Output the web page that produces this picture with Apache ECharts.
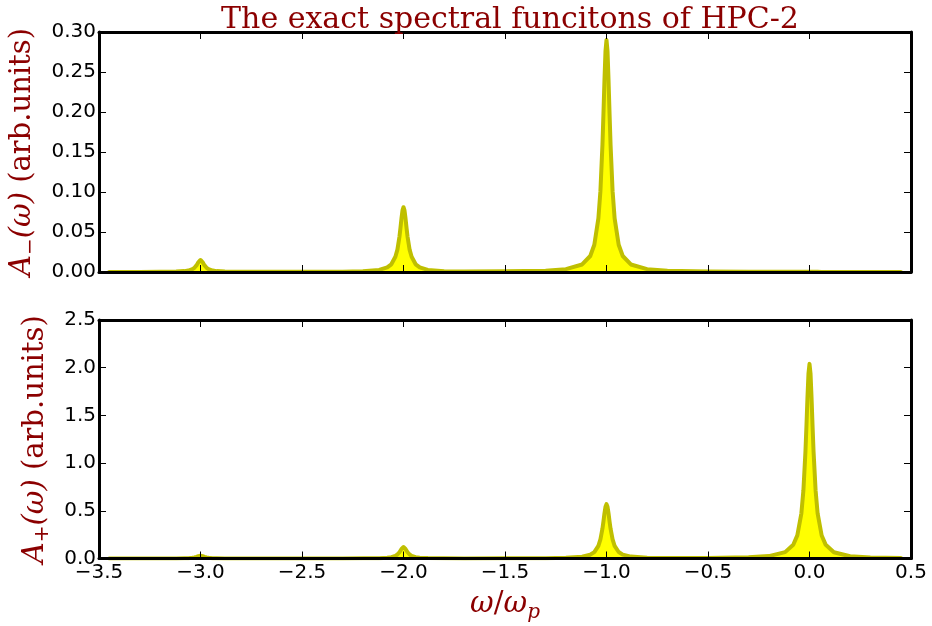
<!DOCTYPE html>
<html>
<head>
<meta charset="utf-8">
<script src="https://cdn.jsdelivr.net/npm/echarts@6/dist/echarts.min.js"></script>
<style>
  html, body { margin: 0; padding: 0; background: #ffffff; }
  #chart { width: 932px; height: 626px; }
</style>
</head>
<body>
<div id="chart"></div>
<script>
// Frequency grid (ω/ωp), denser around each spectral peak
const omega = [
  -3.45,
  -3.3, -3.2, -3.12, -3.08, -3.06, -3.04, -3.03, -3.02, -3.015, -3.01, -3.005, -3.0,
  -2.995, -2.99, -2.985, -2.98, -2.97, -2.96, -2.94, -2.92, -2.88, -2.8, -2.7,
  -2.5,
  -2.3, -2.2, -2.12, -2.08, -2.06, -2.04, -2.03, -2.02, -2.015, -2.01, -2.005, -2.0,
  -1.995, -1.99, -1.985, -1.98, -1.97, -1.96, -1.94, -1.92, -1.88, -1.8, -1.7,
  -1.5,
  -1.3, -1.2, -1.12, -1.08, -1.06, -1.04, -1.03, -1.02, -1.015, -1.01, -1.005, -1.0,
  -0.995, -0.99, -0.985, -0.98, -0.97, -0.96, -0.94, -0.92, -0.88, -0.8, -0.7,
  -0.5,
  -0.3, -0.2, -0.12, -0.08, -0.06, -0.04, -0.03, -0.02, -0.015, -0.01, -0.005, 0.0,
  0.005, 0.01, 0.015, 0.02, 0.03, 0.04, 0.06, 0.08, 0.12, 0.2, 0.3,
  0.45
];

// A−(ω): removal spectrum
const aMinus = [
  0.0001,
  0.0001, 0.0002, 0.0005, 0.0011, 0.0018, 0.0035, 0.0053, 0.0082, 0.0102, 0.0124, 0.0143, 0.0150,
  0.0143, 0.0124, 0.0102, 0.0082, 0.0053, 0.0035, 0.0018, 0.0011, 0.0005, 0.0002, 0.0002,
  0.0003,
  0.0004, 0.0010, 0.0026, 0.0057, 0.0096, 0.019, 0.028, 0.044, 0.055, 0.067, 0.077, 0.081,
  0.077, 0.067, 0.055, 0.044, 0.028, 0.019, 0.0096, 0.0057, 0.0026, 0.0010, 0.0007,
  0.0008,
  0.0017, 0.0036, 0.0094, 0.020, 0.034, 0.067, 0.101, 0.159, 0.198, 0.240, 0.276, 0.290,
  0.276, 0.240, 0.198, 0.159, 0.101, 0.067, 0.034, 0.020, 0.0094, 0.0035, 0.0016,
  0.0006,
  0.0003, 0.0002, 0.0002, 0.0002, 0.0002, 0.0002, 0.0002, 0.0002, 0.0002, 0.0002, 0.0002, 0.0002,
  0.0002, 0.0002, 0.0002, 0.0002, 0.0002, 0.0002, 0.0001, 0.0001, 0.0001, 0.0001, 0.0001,
  0.0001
];

// A+(ω): addition spectrum
const aPlus = [
  0.0002,
  0.0002, 0.0004, 0.0010, 0.0021, 0.0035, 0.0070, 0.0105, 0.0164, 0.0205, 0.0250, 0.0285, 0.0300,
  0.0285, 0.0250, 0.0205, 0.0164, 0.0105, 0.0070, 0.0035, 0.0021, 0.0010, 0.0005, 0.0003,
  0.0006,
  0.0007, 0.0016, 0.0037, 0.0083, 0.014, 0.028, 0.042, 0.066, 0.082, 0.100, 0.114, 0.120,
  0.114, 0.100, 0.082, 0.066, 0.042, 0.028, 0.014, 0.0085, 0.0040, 0.0018, 0.0010,
  0.0015,
  0.0035, 0.0073, 0.019, 0.040, 0.067, 0.133, 0.200, 0.312, 0.389, 0.473, 0.542, 0.570,
  0.542, 0.473, 0.389, 0.312, 0.200, 0.133, 0.068, 0.041, 0.020, 0.0085, 0.0055,
  0.0055,
  0.012, 0.025, 0.067, 0.144, 0.242, 0.474, 0.715, 1.12, 1.39, 1.69, 1.94, 2.04,
  1.94, 1.69, 1.39, 1.12, 0.714, 0.473, 0.241, 0.143, 0.066, 0.024, 0.011,
  0.005
];

const xTickLabels = ['\u22123.5', '\u22123.0', '\u22122.5', '\u22122.0', '\u22121.5', '\u22121.0', '\u22120.5', '0.0', '0.5'];
const yTopTickLabels = ['0.00', '0.05', '0.10', '0.15', '0.20', '0.25', '0.30'];
const yBottomTickLabels = ['0.0', '0.5', '1.0', '1.5', '2.0', '2.5'];

const X_MIN = -3.5, X_MAX = 0.5, X_STEP = 0.5;
const TOP_MAX = 0.3, TOP_STEP = 0.05;
const BOT_MAX = 2.5, BOT_STEP = 0.5;

const darkRed = '#8b0000';
const serif = "'DejaVu Serif', serif";
const sans = "'DejaVu Sans', sans-serif";

const frameLine = { show: true, onZero: false, lineStyle: { color: '#000', width: 3 } };
const innerTick = { show: true, inside: true, length: 7, lineStyle: { color: '#000', width: 1 } };

const nameRich = {
  it: { fontFamily: serif, fontStyle: 'italic', fontSize: 29, color: darkRed },
  rm: { fontFamily: serif, fontSize: 29, color: darkRed },
  sub: { fontFamily: serif, fontSize: 20, color: darkRed, padding: [16, 0, 0, 0] },
  subit: { fontFamily: serif, fontStyle: 'italic', fontSize: 20, color: darkRed, padding: [16, 0, 0, 0] }
};

function xAxisDef(gridIndex, position, withLabels) {
  const ax = {
    type: 'value', gridIndex, position, min: X_MIN, max: X_MAX, interval: X_STEP,
    z: 5, axisLine: frameLine, axisTick: innerTick, splitLine: { show: false },
    axisLabel: { show: false }
  };
  if (withLabels) {
    ax.axisLabel = {
      show: true, margin: 4, color: '#000', fontFamily: sans, fontSize: 20,
      formatter: (v) => xTickLabels[Math.round((v - X_MIN) / X_STEP)]
    };
    ax.name = '{it|\u03c9}{rm|/}{it|\u03c9}{subit|p}';
    ax.nameLocation = 'middle';
    ax.nameGap = 28;
    ax.nameTextStyle = { rich: nameRich };
  }
  return ax;
}

function yAxisDef(gridIndex, position, max, step, labels, name) {
  const ax = {
    type: 'value', gridIndex, position, min: 0, max, interval: step,
    z: 5, axisLine: frameLine, axisTick: innerTick, splitLine: { show: false },
    axisLabel: { show: false }
  };
  if (labels) {
    ax.axisLabel = {
      show: true, margin: 3, color: '#000', fontFamily: sans, fontSize: 20,
      formatter: (v) => labels[Math.round(v / step)]
    };
    ax.name = name;
    ax.nameLocation = 'middle';
    ax.nameRotate = 90;
    ax.nameGap = 34;
    ax.nameTextStyle = { rich: nameRich };
  }
  return ax;
}

function spectrumSeries(xi, yi, values) {
  return {
    type: 'line', xAxisIndex: xi, yAxisIndex: yi,
    data: omega.map((w, i) => [w, values[i]]),
    showSymbol: false, symbol: 'none', smooth: false,
    lineStyle: { color: '#bfbf00', width: 4, join: 'round', cap: 'round' },
    areaStyle: { color: '#ffff00', opacity: 1 },
    z: 2
  };
}

const chart = echarts.init(document.getElementById('chart'), null, { renderer: 'canvas' });
chart.setOption({
  animation: false,
  backgroundColor: '#ffffff',
  title: {
    text: 'The exact spectral funcitons of HPC-2',
    left: 505, top: 0, textAlign: 'center',
    textStyle: { fontFamily: serif, fontWeight: 'normal', fontSize: 30, color: darkRed }
  },
  grid: [
    { left: 99, top: 32, width: 812, height: 240, containLabel: false },
    { left: 99, top: 320, width: 812, height: 238.5, containLabel: false }
  ],
  xAxis: [
    xAxisDef(0, 'bottom', false),
    xAxisDef(0, 'top', false),
    xAxisDef(1, 'bottom', true),
    xAxisDef(1, 'top', false)
  ],
  yAxis: [
    yAxisDef(0, 'left', TOP_MAX, TOP_STEP, yTopTickLabels, '{it|A}{sub|\u2212}{it|(\u03c9)}{rm| (arb.units)}'),
    yAxisDef(0, 'right', TOP_MAX, TOP_STEP, null),
    yAxisDef(1, 'left', BOT_MAX, BOT_STEP, yBottomTickLabels, '{it|A}{sub|+}{it|(\u03c9)}{rm| (arb.units)}'),
    yAxisDef(1, 'right', BOT_MAX, BOT_STEP, null)
  ],
  series: [
    spectrumSeries(0, 0, aMinus),
    spectrumSeries(2, 2, aPlus)
  ]
});
</script>
</body>
</html>
